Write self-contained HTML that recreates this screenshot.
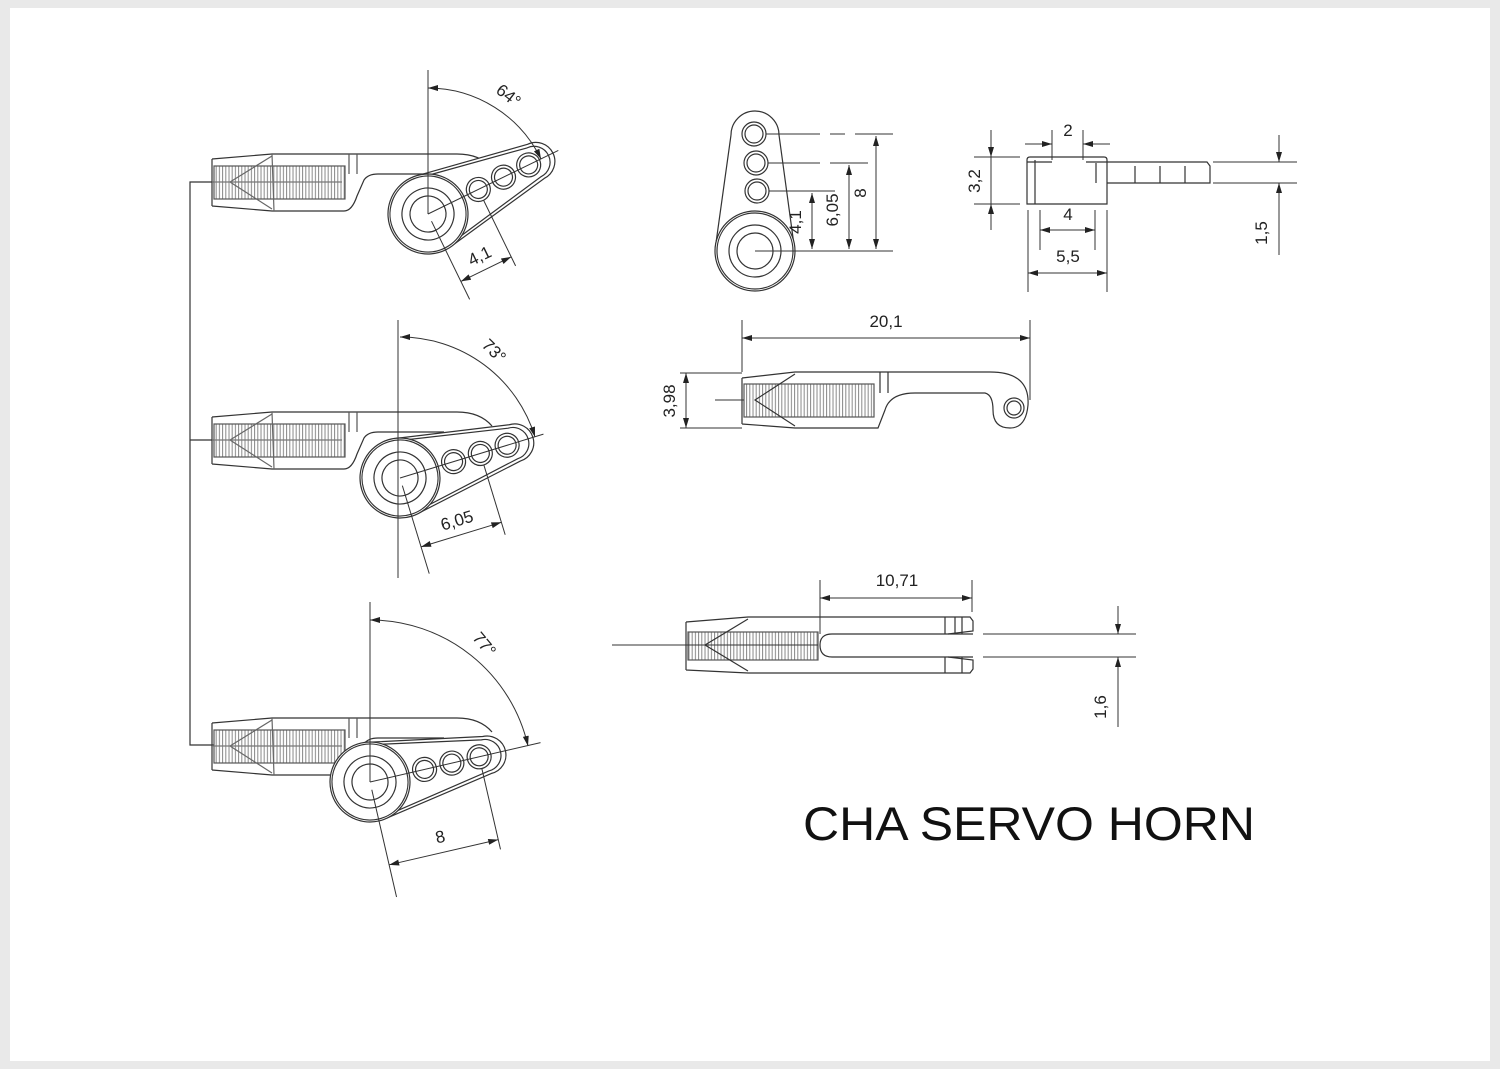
<!DOCTYPE html>
<html><head><meta charset="utf-8"><style>
html,body{margin:0;padding:0;background:#e9e9e9;}
svg{display:block;}
text{font-family:"Liberation Sans",sans-serif;fill:#222;}
</style></head><body>
<svg width="1500" height="1069" viewBox="0 0 1500 1069" xmlns="http://www.w3.org/2000/svg">
<defs>
<pattern id="th" width="3.2" height="10" patternUnits="userSpaceOnUse">
<line x1="1" y1="0" x2="1" y2="10" stroke="#888" stroke-width="1"/>
</pattern>
<marker id="ar" viewBox="0 0 10 6" refX="10" refY="3" markerWidth="12" markerHeight="6" markerUnits="userSpaceOnUse" orient="auto-start-reverse">
<path d="M0,0 L10,3 L0,6 z" fill="#222"/>
</marker>
<g id="rod" fill="none" stroke="#333" stroke-width="1.2">
<rect x="2" y="12" width="131" height="33" fill="url(#th)" stroke="#555"/>
<path d="M0,5 L0,52 M0,5 L60,0 L245,0 Q268,0 280,14 M0,52 L60,57 L132,57 Q140,57 145,42 L152,26 Q156,20 166,20 L232,20"/>
<path d="M60,2 L18,28 L60,55 M60,0 L62,57" stroke="#666"/>
<path d="M137,0 L137,20 M145,0 L145,20" stroke="#555"/>
<line x1="0" y1="28" x2="130" y2="28" stroke="#777"/>
</g>
<g id="horn" fill="none" stroke="#333" stroke-width="1.2">
<path d="M8,-39 L120,-19 A19,19 0 0 1 120,19 L8,39" fill="#fff"/>
<path d="M10,-36 L118,-16 A16,16 0 0 1 118,16 L10,36"/>
<circle r="40" fill="#fff"/>
<circle r="38"/>
<circle r="26"/>
<circle r="18"/>
<circle cx="56" cy="0" r="12"/><circle cx="56" cy="0" r="9"/>
<circle cx="84" cy="0" r="12"/><circle cx="84" cy="0" r="9"/>
<circle cx="112" cy="0" r="12"/><circle cx="112" cy="0" r="9"/>
</g>
</defs>
<rect x="10" y="8" width="1480" height="1053" fill="#fff"/>

<path d="M214,182 L190,182 L190,745 L214,745 M190,440 L214,440" fill="none" stroke="#333" stroke-width="1.2"/>

<use href="#rod" x="212" y="154"/>
<g transform="translate(428,214) rotate(-26)">
<use href="#horn"/>
<g stroke="#333" stroke-width="1" fill="none">
<line x1="0" y1="0" x2="145" y2="0"/>
<line x1="0" y1="8" x2="0" y2="95"/>
<line x1="56" y1="12" x2="56" y2="85"/>
<line x1="0" y1="75" x2="56" y2="75" marker-start="url(#ar)" marker-end="url(#ar)"/>
</g>
<text x="28" y="66" font-size="17" text-anchor="middle">4,1</text>
</g>
<g stroke="#333" stroke-width="1" fill="none">
<line x1="428" y1="214" x2="428" y2="70"/>
<path d="M428,88 A126,126 0 0 1 541,159" marker-start="url(#ar)" marker-end="url(#ar)"/>
</g>
<text x="505" y="100" font-size="17" transform="rotate(38 505 100)" text-anchor="middle">64°</text>

<use href="#rod" x="212" y="412"/>
<g transform="translate(400,478) rotate(-17)">
<use href="#horn"/>
<g stroke="#333" stroke-width="1" fill="none">
<line x1="0" y1="0" x2="150" y2="0"/>
<line x1="0" y1="8" x2="0" y2="100"/>
<line x1="84" y1="12" x2="84" y2="85"/>
<line x1="0" y1="72" x2="84" y2="72" marker-start="url(#ar)" marker-end="url(#ar)"/>
</g>
<text x="42" y="63" font-size="17" text-anchor="middle">6,05</text>
</g>
<g stroke="#333" stroke-width="1" fill="none">
<line x1="398" y1="478" x2="398" y2="320"/>
<line x1="398" y1="478" x2="398" y2="578"/>
<path d="M400,337 A141,141 0 0 1 535,437" marker-start="url(#ar)" marker-end="url(#ar)"/>
</g>
<text x="490" y="355" font-size="17" transform="rotate(45 490 355)" text-anchor="middle">73°</text>

<use href="#rod" x="212" y="718"/>
<g transform="translate(370,782) rotate(-13)">
<use href="#horn"/>
<g stroke="#333" stroke-width="1" fill="none">
<line x1="0" y1="0" x2="175" y2="0"/>
<line x1="0" y1="8" x2="0" y2="118"/>
<line x1="112" y1="12" x2="112" y2="95"/>
<line x1="0" y1="85" x2="112" y2="85" marker-start="url(#ar)" marker-end="url(#ar)"/>
</g>
<text x="56" y="75" font-size="17" text-anchor="middle">8</text>
</g>
<g stroke="#333" stroke-width="1" fill="none">
<line x1="370" y1="782" x2="370" y2="602"/>
<path d="M370,620 A162,162 0 0 1 528,746" marker-start="url(#ar)" marker-end="url(#ar)"/>
</g>
<text x="480" y="648" font-size="17" transform="rotate(50 480 648)" text-anchor="middle">77°</text>

<g fill="none" stroke="#333" stroke-width="1.2">
<path d="M731,135 A24,24 0 0 1 779,135 L794,245 M731,135 L715,250"/>
<circle cx="755" cy="251" r="40" fill="#fff"/>
<circle cx="755" cy="251" r="38"/>
<circle cx="755" cy="251" r="26"/>
<circle cx="755" cy="251" r="18"/>
<circle cx="754" cy="134" r="12"/><circle cx="754" cy="134" r="9"/>
<circle cx="756" cy="163" r="12"/><circle cx="756" cy="163" r="9"/>
<circle cx="757" cy="191" r="12"/><circle cx="757" cy="191" r="9"/>
</g>
<g stroke="#333" stroke-width="1" fill="none">
<path d="M766,134 L820,134 M830,134 L845,134 M855,134 L893,134"/>
<path d="M768,163 L820,163 M830,163 L868,163"/>
<path d="M769,191 L835,191"/>
<path d="M755,251 L893,251"/>
<line x1="876" y1="136" x2="876" y2="249" marker-start="url(#ar)" marker-end="url(#ar)"/>
<line x1="849" y1="165" x2="849" y2="249" marker-start="url(#ar)" marker-end="url(#ar)"/>
<line x1="812" y1="193" x2="812" y2="249" marker-start="url(#ar)" marker-end="url(#ar)"/>
</g>
<text x="866" y="193" font-size="17" transform="rotate(-90 866 193)" text-anchor="middle">8</text>
<text x="838" y="210" font-size="17" transform="rotate(-90 838 210)" text-anchor="middle">6,05</text>
<text x="801" y="222" font-size="17" transform="rotate(-90 801 222)" text-anchor="middle">4,1</text>

<g fill="none" stroke="#333" stroke-width="1.2">
<path d="M1027,160 Q1027,157 1030,157 L1104,157 Q1107,157 1107,160 L1107,204 L1027,204 Z"/>
<path d="M1035,160 L1035,204 M1096,163 L1096,183 M1027,162 L1052,162 M1086,162 L1107,162"/>
<path d="M1107,162 L1207,162 L1210,166 L1210,183 L1107,183"/>
<path d="M1135,166 L1135,183 M1160,166 L1160,183 M1185,166 L1185,183"/>
</g>
<g stroke="#333" stroke-width="1" fill="none">
<path d="M974,157 L1020,157 M974,204 L1020,204"/>
<line x1="991" y1="130" x2="991" y2="157" marker-end="url(#ar)"/>
<line x1="991" y1="230" x2="991" y2="204" marker-end="url(#ar)"/>
<line x1="991" y1="157" x2="991" y2="204"/>
<path d="M1052,130 L1052,160 M1083,130 L1083,160"/>
<line x1="1025" y1="144" x2="1052" y2="144" marker-end="url(#ar)"/>
<line x1="1110" y1="144" x2="1083" y2="144" marker-end="url(#ar)"/>
<path d="M1040,210 L1040,250 M1095,210 L1095,250"/>
<line x1="1040" y1="230" x2="1095" y2="230" marker-start="url(#ar)" marker-end="url(#ar)"/>
<path d="M1028,210 L1028,292 M1107,210 L1107,292"/>
<line x1="1028" y1="273" x2="1107" y2="273" marker-start="url(#ar)" marker-end="url(#ar)"/>
<path d="M1213,162 L1297,162 M1213,183 L1297,183"/>
<line x1="1279" y1="135" x2="1279" y2="162" marker-end="url(#ar)"/>
<line x1="1279" y1="255" x2="1279" y2="183" marker-end="url(#ar)"/>
</g>
<text x="1068" y="136" font-size="17" text-anchor="middle">2</text>
<text x="980" y="181" font-size="17" transform="rotate(-90 980 181)" text-anchor="middle">3,2</text>
<text x="1068" y="220" font-size="17" text-anchor="middle">4</text>
<text x="1068" y="262" font-size="17" text-anchor="middle">5,5</text>
<text x="1267" y="233" font-size="17" transform="rotate(-90 1267 233)" text-anchor="middle">1,5</text>

<g fill="none" stroke="#333" stroke-width="1.2">
<rect x="744" y="384" width="130" height="33" fill="url(#th)" stroke="#555"/>
<path d="M742,378 L742,424 M742,378 L795,372 L990,372 Q1030,372 1028,405 Q1026,428 1010,428 Q993,428 993,410 Q993,395 985,393 L915,393 Q890,393 885,410 L878,428 L795,428 L742,424"/>
<path d="M795,374 L755,400 L795,426"/>
<path d="M880,372 L880,393 M888,372 L888,393"/>
<circle cx="1014" cy="408" r="10"/><circle cx="1014" cy="408" r="7"/>
</g>
<g stroke="#333" stroke-width="1" fill="none">
<path d="M742,320 L742,372 M1030,320 L1030,400"/>
<line x1="742" y1="338" x2="1030" y2="338" marker-start="url(#ar)" marker-end="url(#ar)"/>
<path d="M680,373 L742,373 M680,428 L742,428 M715,400 L744,400"/>
<line x1="686" y1="373" x2="686" y2="428" marker-start="url(#ar)" marker-end="url(#ar)"/>
</g>
<text x="886" y="327" font-size="17" text-anchor="middle">20,1</text>
<text x="675" y="401" font-size="17" transform="rotate(-90 675 401)" text-anchor="middle">3,98</text>

<g fill="none" stroke="#333" stroke-width="1.2">
<rect x="688" y="632" width="130" height="28" fill="url(#th)" stroke="#555"/>
<path d="M686,622 L686,670 M686,622 L748,617 L970,617 L973,621 L973,631 L948,634 M686,670 L748,673 L970,673 L973,669 L973,660 L948,657"/>
<path d="M973,634 L832,634 Q820,634 820,645 Q820,657 832,657 L973,657"/>
<path d="M748,619 L705,645 L748,671"/>
<path d="M945,617 L945,634 M955,617 L955,634 M962,617 L962,634 M945,657 L945,673 M962,657 L962,673"/>
</g>
<g stroke="#333" stroke-width="1" fill="none">
<line x1="612" y1="645" x2="818" y2="645"/>
<path d="M820,580 L820,634 M972,580 L972,612"/>
<line x1="820" y1="598" x2="972" y2="598" marker-start="url(#ar)" marker-end="url(#ar)"/>
<path d="M983,634 L1136,634 M983,657 L1136,657"/>
<line x1="1118" y1="606" x2="1118" y2="634" marker-end="url(#ar)"/>
<line x1="1118" y1="727" x2="1118" y2="657" marker-end="url(#ar)"/>
</g>
<text x="897" y="586" font-size="17" text-anchor="middle">10,71</text>
<text x="1106" y="707" font-size="17" transform="rotate(-90 1106 707)" text-anchor="middle">1,6</text>

<text x="803" y="840" font-size="47" textLength="452" lengthAdjust="spacingAndGlyphs" style="fill:#111">CHA SERVO HORN</text>
</svg>
</body></html>
